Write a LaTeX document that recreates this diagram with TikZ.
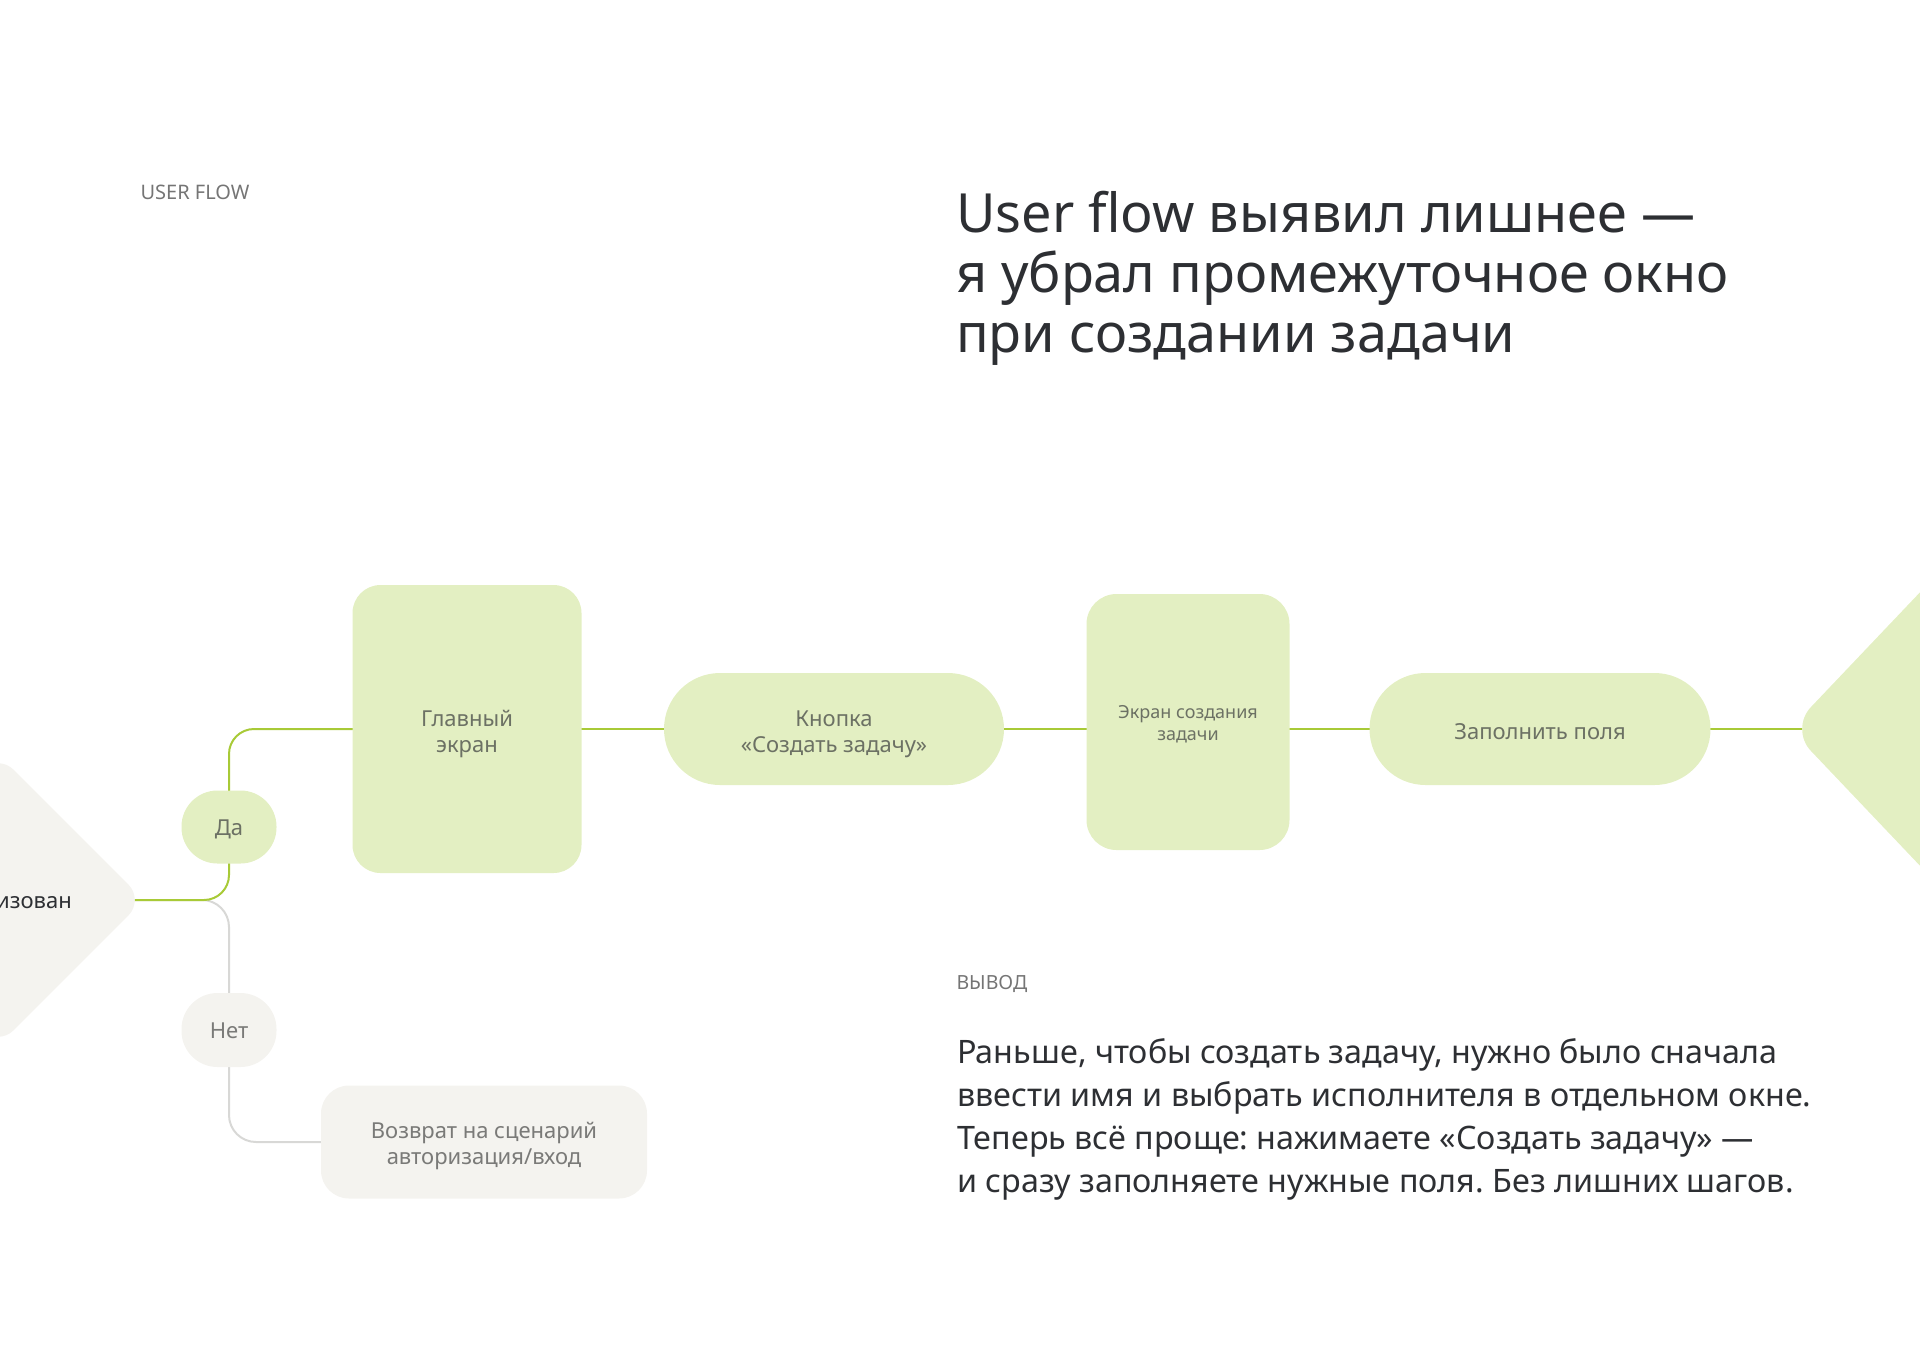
\documentclass[tikz,border=0pt]{standalone}
\usepackage{fontspec}
\setmainfont{Noto Sans}
\usetikzlibrary{shapes.geometric}
\definecolor{gfill}{HTML}{E3EFC2}
\definecolor{gline}{HTML}{A8CA37}
\definecolor{hfill}{HTML}{F4F3EF}
\definecolor{hline}{HTML}{D8D8D6}
\definecolor{ntext}{HTML}{6C7164}
\definecolor{htext}{HTML}{7A7A78}
\definecolor{dark}{HTML}{2D2F33}
\definecolor{label}{HTML}{757575}
\pgfdeclarelayer{bg}
\pgfsetlayers{bg,main}
\tikzset{
  gbox/.style={fill=gfill, text=ntext, align=center, inner sep=0, font=\fontsize{22}{26}\selectfont},
  hbox/.style={fill=hfill, text=htext, align=center, inner sep=0, font=\fontsize{22}{26}\selectfont},
  lower/.style={execute at begin node={\rule{0pt}{#1}}},
  gconn/.style={draw=gline, line width=2pt, rounded corners=25},
  hconn/.style={draw=hline, line width=2pt, rounded corners=27},
}
\frenchspacing
\begin{document}
\begin{tikzpicture}[x=1pt,y=-1pt]
\useasboundingbox (0,0) rectangle (1920,1361);
\clip (0,0) rectangle (1920,1361);

% texts
\node[anchor=west, text=label, font=\fontsize{20}{24}\selectfont] (uf) at (137,192) {USER FLOW};
\node[anchor=north west, text=dark, align=left, font=\fontsize{54}{60}\selectfont, inner sep=0] (title) at (956,191)
  {User flow выявил лишнее —\\я убрал промежуточное окно\\при создании задачи};
\node[anchor=west, text=label, font=\fontsize{19.5}{22}\selectfont] (vyv) at (953,984) {ВЫВОД};
\node[anchor=north west, text=dark, align=left, font=\fontsize{32.3}{43}\selectfont, inner sep=0] (body) at (957,1038)
  {Раньше, чтобы создать задачу, нужно было сначала\\ввести имя и выбрать исполнителя в отдельном окне.\\Теперь всё проще: нажимаете «Создать задачу» —\\и сразу заполняете нужные поля. Без лишних шагов.};

% nodes
\node[diamond, aspect=1, minimum width=292, minimum height=292, fill=hfill, rounded corners=22, inner sep=0] (auth) at (-2,900) {};
\node[anchor=east, text=dark, font=\fontsize{22}{26}\selectfont, inner sep=0] (authtext) at (72,903) {Авторизован};
\node[gbox, lower=20.5pt, minimum width=95, minimum height=73, rounded corners=36] (yes) at (229,827) {Да};
\node[hbox, lower=18pt, minimum width=95, minimum height=74, rounded corners=36] (no) at (229,1030) {Нет};
\node[hbox, lower=51pt, minimum width=326, minimum height=113, rounded corners=28] (ret) at (484,1142) {Возврат на сценарий\\авторизация/вход};
\node[gbox, lower=53pt, minimum width=229, minimum height=288, rounded corners=28] (main) at (467,729) {Главный\\экран};
\node[gbox, lower=52pt, minimum width=340, minimum height=112, rounded corners=56] (btn) at (834,729) {Кнопка\\«Создать задачу»};
\node[gbox, lower=40pt, minimum width=203, minimum height=256, rounded corners=30, font=\fontsize{18}{22}\selectfont] (screen) at (1188,722) {Экран создания\\задачи};
\node[gbox, lower=20.5pt, minimum width=341, minimum height=112, rounded corners=56] (fill) at (1540,729) {Заполнить поля};
\node[diamond, aspect=0.95, minimum width=420, minimum height=442, fill=gfill, rounded corners=30, inner sep=0] (next) at (2000,729) {};

% connectors
\begin{pgfonlayer}{bg}
\draw[hconn] (auth.center) -| (no.center) |- (ret.center);
\draw[gconn] (auth.center) -| (yes.center) |- (main.center);
\draw[gconn] (main.center) -- (btn.center);
\draw[gconn] (btn.center) -- (btn.center -| screen.center) -- (fill.center);
\draw[gconn] (fill.center) -- (next.center);
\end{pgfonlayer}
\end{tikzpicture}
\end{document}
